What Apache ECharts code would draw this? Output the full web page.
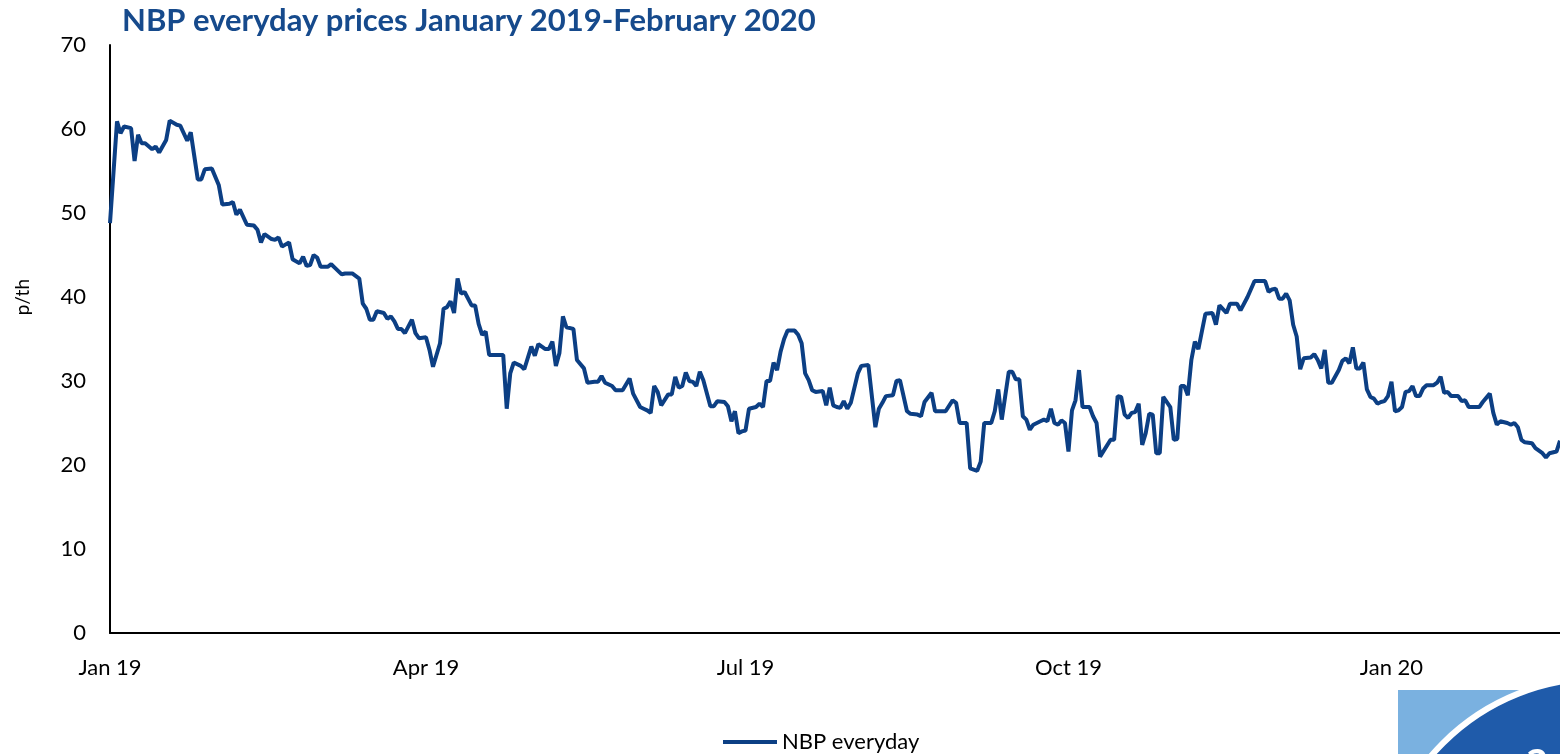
<!DOCTYPE html>
<html>
<head>
<meta charset="utf-8">
<script src="https://cdn.jsdelivr.net/npm/echarts@6/dist/echarts.min.js"></script>
<style>
html,body{margin:0;padding:0;background:#fff;}
#chart{width:1560px;height:754px;}
</style>
</head>
<body>
<div id="chart"></div>
<script>
const titleText = 'NBP everyday prices January 2019-February 2020';
const seriesName = 'NBP everyday';
const yAxisTitle = 'p/th';

const tickDates = ['2019-01-01','2019-04-01','2019-07-01','2019-10-01','2020-01-01'];
const tickLabels = ['Jan 19','Apr 19','Jul 19','Oct 19','Jan 20'];

const dates = [
'2019-01-01','2019-01-03','2019-01-04','2019-01-05','2019-01-07','2019-01-08','2019-01-09','2019-01-10','2019-01-11','2019-01-13',
'2019-01-14','2019-01-15','2019-01-17','2019-01-18','2019-01-20','2019-01-21','2019-01-23','2019-01-24','2019-01-26','2019-01-27',
'2019-01-28','2019-01-30','2019-02-01','2019-02-02','2019-02-04','2019-02-05','2019-02-06','2019-02-07','2019-02-09','2019-02-11',
'2019-02-12','2019-02-13','2019-02-14','2019-02-16','2019-02-17','2019-02-18','2019-02-19','2019-02-21','2019-02-22','2019-02-24',
'2019-02-25','2019-02-26','2019-02-27','2019-02-28','2019-03-01','2019-03-02','2019-03-04','2019-03-05','2019-03-06','2019-03-08',
'2019-03-09','2019-03-11','2019-03-13','2019-03-14','2019-03-15','2019-03-16','2019-03-17','2019-03-18','2019-03-20','2019-03-21',
'2019-03-22','2019-03-23','2019-03-24','2019-03-25','2019-03-26','2019-03-27','2019-03-28','2019-03-29','2019-03-30','2019-04-01',
'2019-04-02','2019-04-03','2019-04-05','2019-04-06','2019-04-07','2019-04-08','2019-04-09','2019-04-10','2019-04-11','2019-04-12',
'2019-04-14','2019-04-15','2019-04-16','2019-04-17','2019-04-18','2019-04-19','2019-04-23','2019-04-24','2019-04-25','2019-04-26',
'2019-04-28','2019-04-29','2019-05-01','2019-05-02','2019-05-03','2019-05-05','2019-05-06','2019-05-07','2019-05-08','2019-05-09',
'2019-05-10','2019-05-11','2019-05-13','2019-05-14','2019-05-16','2019-05-17','2019-05-19','2019-05-20','2019-05-21','2019-05-22',
'2019-05-24','2019-05-25','2019-05-27','2019-05-29','2019-05-30','2019-06-01','2019-06-02','2019-06-03','2019-06-04','2019-06-05',
'2019-06-06','2019-06-07','2019-06-09','2019-06-10','2019-06-11','2019-06-12','2019-06-13','2019-06-14','2019-06-15','2019-06-16',
'2019-06-17','2019-06-18','2019-06-19','2019-06-21','2019-06-22','2019-06-23','2019-06-25','2019-06-26','2019-06-27','2019-06-28',
'2019-06-29','2019-06-30','2019-07-01','2019-07-02','2019-07-04','2019-07-05','2019-07-06','2019-07-07','2019-07-08','2019-07-09',
'2019-07-10','2019-07-11','2019-07-12','2019-07-13','2019-07-15','2019-07-16','2019-07-17','2019-07-18','2019-07-19','2019-07-20',
'2019-07-21','2019-07-23','2019-07-24','2019-07-25','2019-07-26','2019-07-27','2019-07-28','2019-07-29','2019-07-30','2019-07-31',
'2019-08-02','2019-08-03','2019-08-05','2019-08-07','2019-08-08','2019-08-09','2019-08-10','2019-08-12','2019-08-13','2019-08-14',
'2019-08-16','2019-08-17','2019-08-19','2019-08-20','2019-08-21','2019-08-23','2019-08-24','2019-08-27','2019-08-29','2019-08-30',
'2019-08-31','2019-09-02','2019-09-03','2019-09-05','2019-09-06','2019-09-07','2019-09-09','2019-09-10','2019-09-11','2019-09-12',
'2019-09-14','2019-09-15','2019-09-16','2019-09-17','2019-09-18','2019-09-19','2019-09-20','2019-09-21','2019-09-23','2019-09-24',
'2019-09-25','2019-09-26','2019-09-27','2019-09-28','2019-09-29','2019-09-30','2019-10-01','2019-10-02','2019-10-03','2019-10-04',
'2019-10-05','2019-10-07','2019-10-08','2019-10-09','2019-10-10','2019-10-13','2019-10-14','2019-10-15','2019-10-16','2019-10-17',
'2019-10-18','2019-10-19','2019-10-20','2019-10-21','2019-10-22','2019-10-23','2019-10-24','2019-10-25','2019-10-26','2019-10-27',
'2019-10-28','2019-10-30','2019-10-31','2019-11-01','2019-11-02','2019-11-03','2019-11-04','2019-11-05','2019-11-06','2019-11-07',
'2019-11-08','2019-11-09','2019-11-11','2019-11-12','2019-11-13','2019-11-15','2019-11-16','2019-11-18','2019-11-19','2019-11-21',
'2019-11-23','2019-11-25','2019-11-26','2019-11-27','2019-11-28','2019-11-29','2019-11-30','2019-12-01','2019-12-02','2019-12-03',
'2019-12-04','2019-12-05','2019-12-06','2019-12-07','2019-12-09','2019-12-10','2019-12-11','2019-12-12','2019-12-13','2019-12-14',
'2019-12-15','2019-12-17','2019-12-18','2019-12-19','2019-12-20','2019-12-21','2019-12-22','2019-12-23','2019-12-24','2019-12-25',
'2019-12-26','2019-12-27','2019-12-28','2019-12-29','2019-12-30','2019-12-31','2020-01-01','2020-01-02','2020-01-03','2020-01-04',
'2020-01-05','2020-01-06','2020-01-07','2020-01-08','2020-01-09','2020-01-10','2020-01-11','2020-01-13','2020-01-14','2020-01-15',
'2020-01-16','2020-01-17','2020-01-18','2020-01-20','2020-01-21','2020-01-22','2020-01-23','2020-01-26','2020-01-27','2020-01-29',
'2020-01-30','2020-01-31','2020-02-01','2020-02-03','2020-02-04','2020-02-05','2020-02-06','2020-02-07','2020-02-08','2020-02-10',
'2020-02-11','2020-02-13','2020-02-14','2020-02-15','2020-02-17','2020-02-18'
];

const prices = [
48.8,60.9,59.5,60.3,60.1,56.2,59.3,58.3,58.3,57.6,
57.9,57.2,58.7,61.0,60.5,60.4,58.6,59.6,54.0,54.0,
55.2,55.3,53.3,51.0,51.1,51.3,49.8,50.4,48.6,48.5,
48.0,46.5,47.5,46.9,46.8,47.1,46.0,46.5,44.5,44.0,
44.8,43.7,43.8,45.0,44.7,43.6,43.6,43.9,43.5,42.7,
42.8,42.8,42.2,39.2,38.6,37.3,37.3,38.3,38.1,37.4,
37.7,37.1,36.2,36.2,35.7,36.5,37.3,35.7,35.1,35.2,
33.7,31.7,34.5,38.6,38.8,39.5,38.1,42.2,40.4,40.6,
39.0,39.0,36.8,35.5,35.9,33.1,33.1,26.7,30.9,32.2,
31.8,31.4,34.1,33.0,34.4,33.8,33.8,34.7,31.8,33.3,
37.7,36.4,36.2,32.5,31.5,29.8,29.9,29.9,30.6,29.8,
29.4,28.9,28.9,30.3,28.5,26.9,26.7,26.5,26.2,29.4,
28.7,27.1,28.4,28.4,30.5,29.2,29.4,31.0,30.0,29.9,
29.4,31.1,30.1,27.0,27.0,27.6,27.5,27.0,25.2,26.4,
23.8,24.0,24.1,26.7,26.9,27.3,26.9,30.0,30.0,32.2,
31.3,33.5,35.0,36.0,36.0,35.5,34.5,30.9,30.1,28.9,
28.7,28.8,27.1,29.2,27.1,26.9,26.8,27.6,26.7,27.4,
30.9,31.8,31.9,24.5,26.7,27.4,28.2,28.3,30.0,30.1,
26.4,26.1,26.0,25.8,27.5,28.6,26.4,26.4,27.7,27.4,
25.0,25.0,19.6,19.3,20.4,25.0,25.0,26.4,29.0,25.4,
31.1,31.1,30.2,30.2,25.8,25.4,24.2,24.8,25.2,25.4,
25.2,26.7,25.0,24.8,25.3,25.0,21.6,26.5,27.7,31.3,
26.9,26.9,25.8,25.0,21.0,23.0,23.0,28.2,28.1,26.0,
25.6,26.2,26.3,27.3,22.4,23.8,26.1,26.0,21.4,21.4,
28.1,26.9,23.0,23.1,29.4,29.4,28.3,32.5,34.7,33.8,
35.9,38.0,38.1,36.7,39.0,38.1,39.2,39.2,38.4,40.0,
41.9,41.9,41.9,40.6,40.9,41.0,39.8,39.8,40.4,39.6,
36.7,35.3,31.4,32.7,32.8,33.2,32.5,31.5,33.7,29.8,
29.8,31.3,32.4,32.7,32.1,34.0,31.5,31.5,32.2,29.0,
28.1,27.9,27.3,27.5,27.6,28.2,29.9,26.4,26.5,26.9,
28.7,28.8,29.4,28.2,28.2,29.1,29.5,29.5,29.8,30.5,
28.6,28.7,28.2,28.2,27.6,27.7,26.9,26.9,27.5,28.5,
26.2,24.8,25.2,25.0,24.8,25.0,24.5,23.0,22.7,22.6,
22.0,21.4,20.9,21.4,21.6,22.9
];

function localTime(s) { return new Date(s + 'T00:00:00').getTime(); }
const tickTimes = tickDates.map(localTime);

const chart = echarts.init(document.getElementById('chart'), null, {renderer: 'canvas'});
const font = 'Lato, "Open Sans", sans-serif';

chart.setOption({
  animation: false,
  backgroundColor: '#ffffff',
  title: {
    text: titleText,
    left: 117,
    top: 0,
    textStyle: { color: '#164A8C', fontSize: 31, fontWeight: 'bold', fontFamily: font }
  },
  legend: {
    data: [seriesName],
    left: 718,
    top: 726,
    icon: 'rect',
    itemWidth: 54,
    itemHeight: 4,
    itemGap: 10,
    textStyle: { color: '#000', fontSize: 22, fontFamily: font }
  },
  grid: { left: 110, right: 0, top: 45, bottom: 121, containLabel: false },
  xAxis: {
    type: 'value',
    min: localTime(dates[0]),
    max: localTime(dates[dates.length - 1]),
    axisLine: { show: true, onZero: false, lineStyle: { color: '#000', width: 2 } },
    axisTick: { show: false },
    splitLine: { show: false },
    axisLabel: {
      customValues: tickTimes,
      showMinLabel: true,
      showMaxLabel: true,
      margin: 24,
      color: '#000',
      fontSize: 22,
      fontFamily: font,
      formatter: function (v) {
        const i = tickTimes.indexOf(v);
        return i >= 0 ? tickLabels[i] : '';
      }
    }
  },
  yAxis: {
    type: 'value',
    min: 0,
    max: 70,
    interval: 10,
    axisLine: { show: true, lineStyle: { color: '#000', width: 2 } },
    axisTick: { show: false },
    splitLine: { show: false },
    axisLabel: { color: '#000', fontSize: 22, fontFamily: font, margin: 24 }
  },
  graphic: [
    {
      type: 'text',
      left: 13, top: 279,
      rotation: Math.PI / 2,
      style: { text: yAxisTitle, fill: '#000', font: '19px ' + font }
    },
    {
      type: 'rect', z: 1,
      shape: { x: 1398, y: 690, width: 162, height: 64 },
      style: { fill: '#7AB1E0' }
    },
    {
      type: 'circle', z: 2,
      shape: { cx: 1600, cy: 900, r: 222 },
      style: { fill: '#1F5BAA', stroke: '#ffffff', lineWidth: 6 }
    },
    {
      type: 'text', z: 3,
      left: 1526, top: 736,
      style: { text: 'a', fill: '#ffffff', font: 'bold 44px ' + font }
    }
  ],
  series: [{
    name: seriesName,
    type: 'line',
    data: dates.map((d, i) => [localTime(d), prices[i]]),
    showSymbol: false,
    symbol: 'none',
    lineStyle: { color: '#0C3F84', width: 4 },
    itemStyle: { color: '#0C3F84' },
    clip: true
  }]
});
</script>
</body>
</html>
